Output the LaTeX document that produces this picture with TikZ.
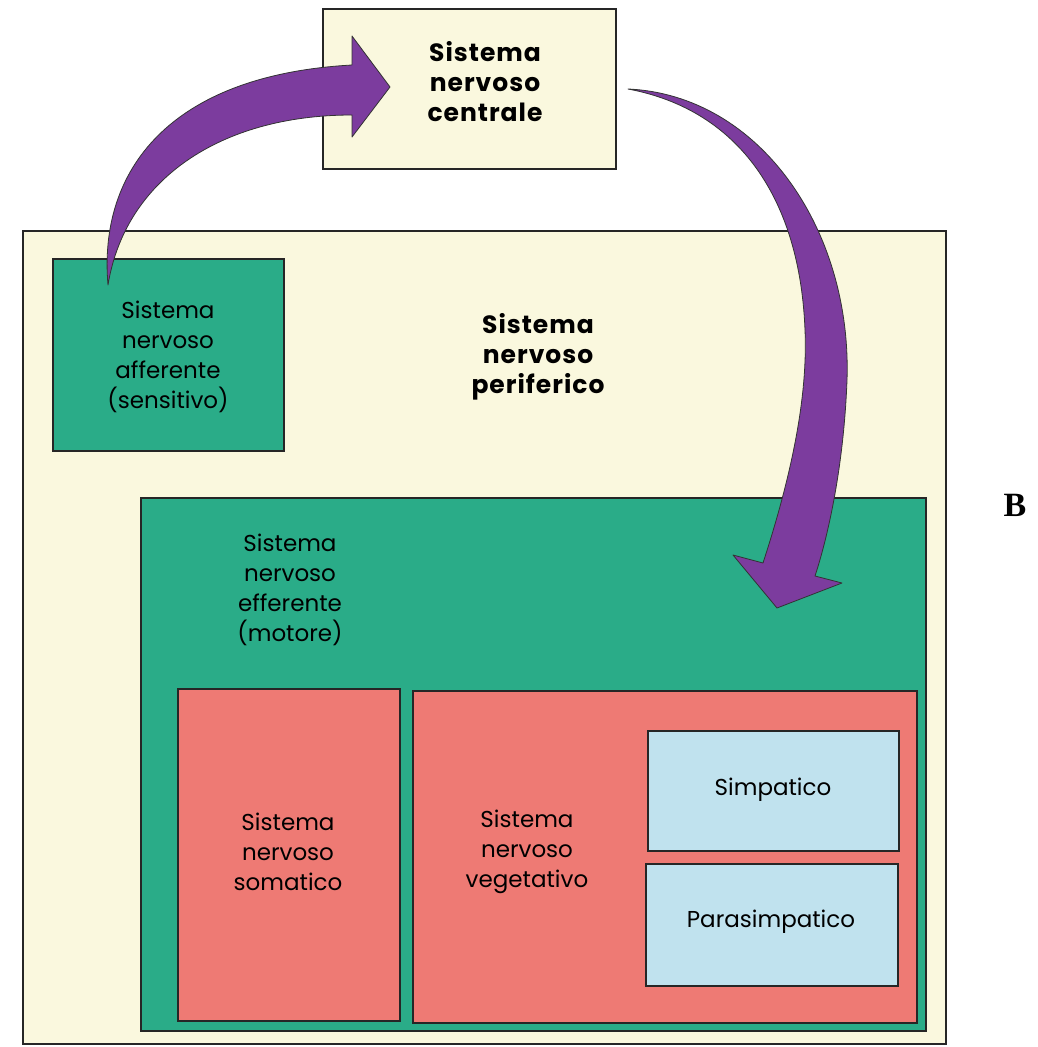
\documentclass[tikz,border=0pt]{standalone}
\usepackage{fontspec}
\setmainfont{Poppins}
\newfontfamily\letterfont{Liberation Serif}
\usetikzlibrary{positioning}

\definecolor{cream}{RGB}{250,248,222}
\definecolor{tealgreen}{RGB}{42,172,136}
\definecolor{salmon}{RGB}{238,122,116}
\definecolor{paleblue}{RGB}{192,226,238}
\definecolor{violet}{RGB}{124,60,158}

\tikzset{
    box/.style={draw=black!85, line width=1.6pt, anchor=north west, inner sep=0pt},
    txt/.style={align=center, inner sep=0pt, font=\fontsize{23}{30}\selectfont},
    boldtxt/.style={align=center, inner sep=0pt,
        font=\fontsize{25}{30}\selectfont\bfseries\addfontfeatures{LetterSpace=4}},
    bigarrow/.style={fill=violet, draw=black!80, line width=0.8pt, line join=round}
}

\begin{document}
\begin{tikzpicture}[x=1pt, y=-1pt]
    \useasboundingbox (0,0) rectangle (1037,1047);
    \fill[white] (0,0) rectangle (1037,1047);

    \node[box, fill=cream, minimum width=293pt, minimum height=160pt] (snc) at (322,8) {};
    \node[box, fill=cream, minimum width=923pt, minimum height=813pt] (snp) at (22,230) {};
    \node[box, fill=tealgreen, minimum width=231pt, minimum height=192pt] (aff) at (52,258) {};
    \node[box, fill=tealgreen, minimum width=785pt, minimum height=533pt] (eff) at (140,497) {};
    \node[box, fill=salmon, minimum width=222pt, minimum height=332pt] (som) at (177,688) {};
    \node[box, fill=salmon, minimum width=504pt, minimum height=332pt] (veg) at (412,690) {};
    \node[box, fill=paleblue, minimum width=251pt, minimum height=120pt] (simp) at (647,730) {};
    \node[box, fill=paleblue, minimum width=252pt, minimum height=122pt] (para) at (645,863) {};

    \node[boldtxt] (snclabel) at (485,82) {Sistema\\nervoso\\centrale};
    \node[boldtxt] (snplabel) at (538,357) {Sistema\\nervoso\\periferico};
    \node[txt] (afflabel) at (168,357) {Sistema\\nervoso\\afferente\\(sensitivo)};
    \node[txt] (efflabel) at (290,590) {Sistema\\nervoso\\efferente\\(motore)};
    \node[txt] (somlabel) at (288,852) {Sistema\\nervoso\\somatico};
    \node[txt] (veglabel) at (527,852) {Sistema\\nervoso\\vegetativo};
    \node[txt] (simplabel) at (773,790) {Simpatico};
    \node[txt] (paralabel) at (771,922) {Parasimpatico};
    \node[font=\letterfont\fontsize{34}{34}\selectfont\bfseries] (letter) at (1015,505) {B};

    \draw[bigarrow] (108,285) .. controls (98,170) and (170,75) .. (352,65)
        -- (352,36) -- (390,87) -- (352,137) -- (352,115)
        .. controls (220,115) and (125,180) .. (108,285) -- cycle;
    \draw[bigarrow] (628,89) .. controls (760,95) and (852,230) .. (847,380)
        .. controls (844,460) and (830,530) .. (815,576)
        -- (842,583) -- (777,608) -- (733,555) -- (763,563)
        .. controls (790,480) and (808,400) .. (805,330)
        .. controls (800,200) and (740,110) .. (628,89) -- cycle;
\end{tikzpicture}
\end{document}
